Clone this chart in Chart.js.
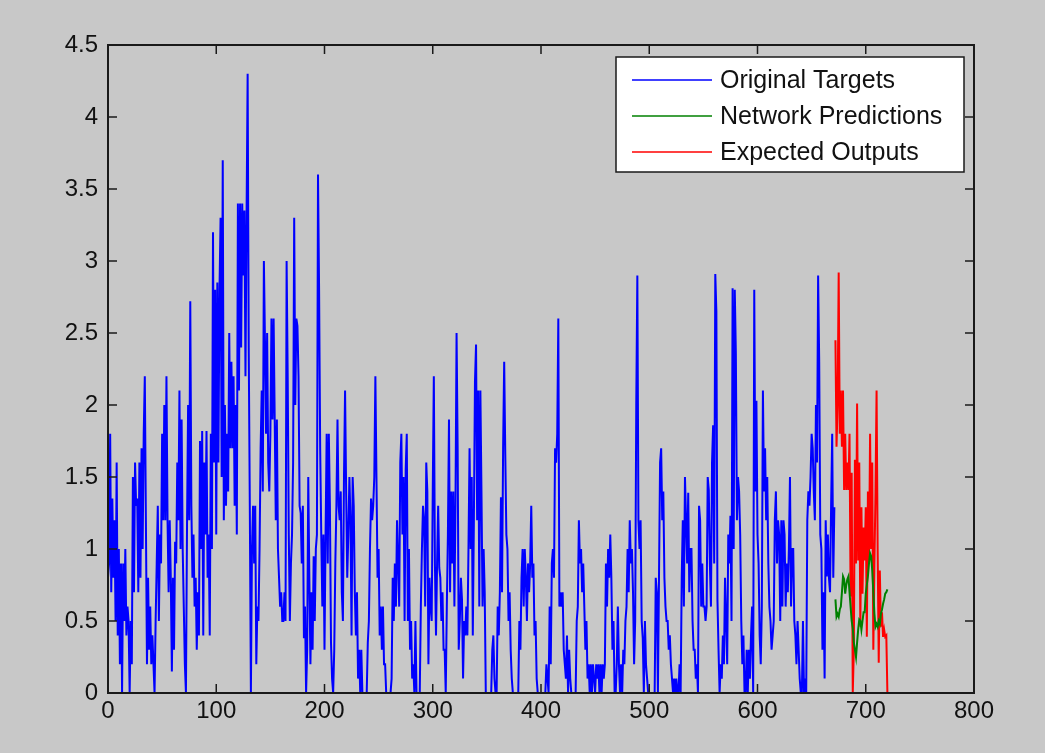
<!DOCTYPE html>
<html>
<head>
<meta charset="utf-8">
<title>Targets / Predictions</title>
<script src="https://cdn.jsdelivr.net/npm/chart.js@4.4.0/dist/chart.umd.min.js"></script>
<style>
    html, body { margin: 0; padding: 0; background: #c8c8c8; }
    #wrap { width: 1045px; height: 753px; }
</style>
</head>
<body>
<div id="wrap"><canvas id="myChart" width="1045" height="753"></canvas></div>
<script>
// Original targets, one value per sample starting at 0
const targets = [
    0.8, 0.9, 1.8, 0.7, 1.35, 0.8, 1.2, 0.5, 1.6, 0.4, 1.0, 0.2, 0.9, 0.0, 0.9, 0.5, 1.0, 0.4, 0.6, 0.5,
    0.0, 0.5, 0.2, 1.5, 0.7, 1.6, 1.3, 1.35, 0.7, 1.6, 0.8, 1.7, 1.0, 1.8, 2.2, 1.2, 0.2, 0.8, 0.3, 0.6,
    0.2, 0.4, 0.2, 0.0, 0.5, 0.9, 1.3, 0.5, 1.1, 0.9, 1.8, 1.2, 2.0, 1.2, 2.2, 1.2, 0.7, 1.2, 0.8, 0.15,
    0.8, 0.3, 1.05, 0.9, 1.6, 1.2, 2.1, 1.0, 1.9, 1.0, 0.6, 0.2, 0.0, 1.16, 2.0, 1.2, 2.72, 1.3, 0.8, 1.1,
    0.6, 0.8, 0.3, 0.7, 0.4, 1.75, 1.0, 1.82, 0.4, 1.6, 1.1, 1.82, 0.8, 1.1, 0.4, 1.8, 1.0, 3.2, 1.6, 2.8,
    1.1, 2.85, 1.6, 2.8, 3.3, 1.5, 3.7, 1.2, 2.0, 1.3, 1.8, 1.4, 2.5, 1.7, 2.3, 1.7, 2.2, 1.3, 2.0, 1.1,
    3.4, 2.1, 3.4, 2.4, 3.4, 2.9, 3.35, 2.2, 3.3, 4.3, 2.4, 1.3, 0.0, 1.0, 1.3, 0.9, 1.3, 0.2, 0.6, 0.5,
    1.0, 1.7, 2.1, 1.4, 3.0, 2.45, 1.8, 2.5, 1.6, 1.4, 1.8, 2.6, 1.9, 2.6, 1.9, 1.2, 1.9, 1.0, 0.8, 0.6,
    0.7, 0.5, 0.5, 0.7, 0.5, 3.0, 2.2, 1.1, 0.5, 0.9, 1.1, 1.6, 3.3, 2.0, 2.6, 2.55, 2.2, 1.3, 1.25, 0.9,
    1.3, 0.38, 0.6, 0.0, 0.3, 1.5, 0.8, 0.2, 0.7, 0.3, 0.95, 0.5, 1.0, 1.1, 3.6, 2.8, 1.7, 1.1, 0.6, 1.1,
    0.3, 1.1, 1.8, 0.9, 1.8, 1.3, 0.35, 0.1, 0.0, 0.3, 0.9, 1.3, 1.9, 1.3, 1.2, 1.4, 0.7, 0.5, 1.5, 2.1,
    1.4, 0.8, 1.1, 1.5, 1.2, 0.4, 1.5, 1.3, 0.7, 0.4, 0.7, 0.1, 0.3, 0.0, 0.3, 0.0, 0.0, 0.0, 0.0, 0.0,
    0.35, 0.5, 1.0, 1.35, 1.2, 1.3, 1.5, 2.2, 1.5, 0.8, 1.0, 0.4, 0.6, 0.3, 0.6, 0.2, 0.2, 0.0, 0.0, 0.0,
    0.0, 0.0, 0.1, 0.8, 0.5, 0.9, 0.6, 1.2, 0.9, 0.6, 1.6, 1.8, 1.1, 1.5, 0.5, 1.55, 1.8, 0.5, 1.0, 0.3,
    0.5, 0.1, 0.2, 0.0, 0.5, 0.0, 0.0, 0.0, 0.0, 0.6, 1.0, 1.3, 1.2, 0.6, 1.6, 1.4, 0.2, 0.8, 0.6, 0.5,
    1.4, 2.2, 0.9, 0.4, 0.9, 1.3, 0.87, 0.8, 0.5, 0.7, 0.3, 0.3, 0.0, 0.6, 1.1, 1.9, 0.7, 1.4, 0.9, 1.4,
    0.6, 1.3, 2.5, 1.7, 0.3, 0.5, 0.8, 0.65, 0.1, 0.5, 0.4, 0.6, 0.4, 1.0, 1.7, 1.0, 1.5, 0.4, 1.2, 2.16,
    2.42, 1.2, 2.1, 0.6, 2.1, 1.4, 0.6, 1.0, 0.7, 0.0, 0.0, 0.0, 0.0, 0.0, 0.0, 0.3, 0.4, 0.1, 0.0, 0.0,
    0.6, 0.4, 0.7, 1.36, 0.7, 1.7, 2.3, 1.66, 1.1, 1.0, 0.5, 0.7, 0.3, 0.1, 0.0, 0.0, 0.0, 0.0, 0.0, 0.0,
    0.5, 0.3, 0.8, 1.0, 0.6, 1.0, 0.8, 0.5, 0.9, 0.7, 0.9, 1.3, 0.8, 0.9, 0.4, 0.5, 0.1, 0.0, 0.0, 0.0,
    0.0, 0.0, 0.0, 0.0, 0.0, 0.2, 0.1, 0.0, 0.6, 0.2, 0.9, 1.0, 0.8, 1.7, 1.6, 1.8, 2.6, 0.6, 0.7, 0.6,
    0.7, 0.3, 0.2, 0.1, 0.4, 0.0, 0.3, 0.1, 0.0, 0.0, 0.0, 0.0, 0.0, 0.5, 0.6, 1.2, 0.9, 1.0, 0.7, 0.9,
    0.6, 0.3, 0.5, 0.1, 0.2, 0.0, 0.2, 0.0, 0.2, 0.1, 0.0, 0.2, 0.1, 0.2, 0.0, 0.2, 0.0, 0.2, 0.1, 0.2,
    0.9, 0.6, 1.0, 0.8, 1.1, 0.8, 0.3, 0.5, 0.0, 0.0, 0.2, 0.6, 0.2, 0.0, 0.2, 0.0, 0.3, 0.2, 0.5, 0.6,
    1.0, 0.7, 1.2, 0.9, 1.0, 0.7, 0.2, 0.5, 2.0, 2.9, 1.2, 1.0, 1.2, 0.5, 0.38, 0.0, 0.5, 0.2, 0.1, 0.0,
    0.0, 0.0, 0.0, 0.0, 0.0, 0.0, 0.8, 0.7, 0.0, 0.8, 1.6, 1.7, 1.2, 1.4, 0.8, 0.6, 0.5, 0.5, 0.3, 0.4,
    0.2, 0.1, 0.0, 0.1, 0.0, 0.1, 0.0, 0.0, 0.2, 0.0, 0.8, 1.2, 0.6, 1.5, 1.2, 0.9, 1.39, 0.7, 1.0, 1.0,
    0.5, 0.3, 0.3, 0.1, 0.2, 0.0, 1.3, 1.2, 0.6, 0.9, 0.6, 0.6, 0.5, 0.6, 1.5, 1.41, 0.9, 0.6, 1.6, 1.86,
    0.9, 2.91, 2.65, 0.65, 0.3, 0.0, 0.2, 0.1, 0.4, 0.2, 0.8, 0.5, 0.2, 1.1, 0.9, 1.23, 0.5, 2.81, 1.0, 2.8,
    2.36, 1.2, 1.5, 1.4, 1.1, 0.5, 0.2, 0.4, 0.0, 0.0, 0.3, 0.0, 0.3, 0.1, 0.4, 0.6, 0.0, 2.8, 1.4, 2.03,
    1.1, 0.9, 0.4, 0.2, 0.6, 2.1, 1.4, 1.7, 1.2, 1.5, 0.9, 0.6, 0.5, 0.3, 0.4, 0.5, 1.2, 1.4, 0.9, 1.2,
    1.1, 0.5, 1.2, 0.6, 1.2, 1.1, 0.6, 0.9, 0.7, 1.0, 1.5, 0.6, 1.0, 1.0, 0.5, 0.4, 0.2, 0.5, 0.3, 0.1,
    0.0, 0.0, 0.5, 0.0, 0.1, 0.0, 1.2, 1.4, 1.3, 1.5, 1.8, 1.7, 1.4, 1.2, 2.0, 1.6, 2.9, 2.3, 1.1, 1.0,
    0.3, 0.7, 0.1, 1.2, 0.81, 1.1, 0.8, 0.7, 1.3, 1.8, 0.8, 1.29
];

// test part: network output and expected output start here
const testStart = 672;
const predictions = [
    0.65, 0.53, 0.55, 0.53, 0.58, 0.6, 0.7, 0.81, 0.79, 0.69, 0.75, 0.79, 0.81, 0.7, 0.6, 0.5, 0.45, 0.35, 0.3, 0.25,
    0.35, 0.44, 0.51, 0.5, 0.44, 0.5, 0.56, 0.56, 0.69, 0.75, 0.81, 0.9, 0.97, 0.95, 0.85, 0.7, 0.55, 0.46, 0.48, 0.46,
    0.5, 0.48, 0.55, 0.58, 0.62, 0.65, 0.69, 0.7, 0.72
];
const expected = [
    2.45, 1.71, 2.0, 2.92, 1.8, 2.1, 1.71, 2.1, 1.41, 1.8, 1.41, 1.6, 1.41, 1.8, 0.67, 1.53, 0.0, 0.3, 1.62, 0.9,
    2.01, 0.92, 1.6, 0.46, 1.29, 0.69, 1.15, 0.92, 1.29, 0.39, 1.4, 0.9, 1.8, 1.0, 1.6, 0.3, 0.89, 1.39, 2.1, 0.99,
    0.21, 0.85, 0.46, 0.56, 0.39, 0.44, 0.39, 0.4, 0.0
];

const xTicks = [0, 100, 200, 300, 400, 500, 600, 700, 800];
const yTicks = [0, 0.5, 1, 1.5, 2, 2.5, 3, 3.5, 4, 4.5];
const seriesNames = ['Original Targets', 'Network Predictions', 'Expected Outputs'];
const seriesColors = ['#0000ff', '#008000', '#ff0000'];

const tickFont = { family: '"Liberation Sans", Arial, sans-serif', size: 24 };

function toPoints(values, start) {
    return values.map(function(v, i) { return { x: start + i, y: v }; });
}

// MATLAB style box: frame, inward ticks and a boxed legend
const matlabBox = {
    id: 'matlabBox',
    afterDraw: function(chart) {
        let ctx = chart.ctx;
        let a = chart.chartArea;
        let xs = chart.scales.x;
        let ys = chart.scales.y;
        let tick = 9;

        ctx.save();
        ctx.strokeStyle = '#1a1a1a';
        ctx.lineWidth = 1.5;
        ctx.beginPath();
        xTicks.forEach(function(v) {
            let px = xs.getPixelForValue(v);
            ctx.moveTo(px, a.bottom); ctx.lineTo(px, a.bottom - tick);
            ctx.moveTo(px, a.top); ctx.lineTo(px, a.top + tick);
        });
        yTicks.forEach(function(v) {
            let py = ys.getPixelForValue(v);
            ctx.moveTo(a.left, py); ctx.lineTo(a.left + tick, py);
            ctx.moveTo(a.right, py); ctx.lineTo(a.right - tick, py);
        });
        ctx.stroke();
        ctx.lineWidth = 2;
        ctx.strokeRect(a.left, a.top, a.right - a.left, a.bottom - a.top);

        // legend
        let lx = 616, ly = 57, lw = 348, lh = 115;
        ctx.fillStyle = '#ffffff';
        ctx.fillRect(lx, ly, lw, lh);
        ctx.lineWidth = 1.5;
        ctx.strokeStyle = '#1a1a1a';
        ctx.strokeRect(lx, ly, lw, lh);
        ctx.font = '25px "Liberation Sans", Arial, sans-serif';
        ctx.textBaseline = 'middle';
        seriesNames.forEach(function(name, i) {
            let y = ly + 23 + i * 36;
            ctx.strokeStyle = seriesColors[i];
            ctx.lineWidth = 1.5;
            ctx.beginPath();
            ctx.moveTo(lx + 16, y);
            ctx.lineTo(lx + 96, y);
            ctx.stroke();
            ctx.fillStyle = '#111111';
            ctx.fillText(name, lx + 104, y + 1);
        });
        ctx.restore();
    }
};

let canvas = document.getElementById('myChart');
let ctx = canvas.getContext('2d');
new Chart(ctx, {
    type: 'line',
    data: {
        datasets: [{
            label: seriesNames[0],
            data: toPoints(targets, 0),
            borderColor: seriesColors[0],
            borderWidth: 2,
            pointRadius: 0,
            tension: 0,
            order: 2
        }, {
            label: seriesNames[1],
            data: toPoints(predictions, testStart),
            borderColor: seriesColors[1],
            borderWidth: 2,
            pointRadius: 0,
            tension: 0,
            order: 0
        }, {
            label: seriesNames[2],
            data: toPoints(expected, testStart),
            borderColor: seriesColors[2],
            borderWidth: 2,
            pointRadius: 0,
            tension: 0,
            order: 1
        }]
    },
    options: {
        responsive: false,
        animation: false,
        layout: { padding: { left: 48, top: 45, right: 71, bottom: 0 } },
        plugins: {
            legend: { display: false },
            tooltip: { enabled: false }
        },
        scales: {
            x: {
                type: 'linear',
                min: 0,
                max: 800,
                afterBuildTicks: function(s) { s.ticks = xTicks.map(function(v) { return { value: v }; }); },
                afterFit: function(s) { s.height = 60; },
                grid: { display: false, drawTicks: false },
                border: { display: false },
                ticks: {
                    color: '#111111', font: tickFont, padding: 4, maxRotation: 0, autoSkip: false,
                    callback: function(v) { return String(v); }
                }
            },
            y: {
                type: 'linear',
                min: 0,
                max: 4.5,
                afterBuildTicks: function(s) { s.ticks = yTicks.map(function(v) { return { value: v }; }); },
                afterFit: function(s) { s.width = 60; },
                grid: { display: false, drawTicks: false },
                border: { display: false },
                ticks: {
                    color: '#111111', font: tickFont, padding: 10, autoSkip: false,
                    callback: function(v) { return String(v); }
                }
            }
        }
    },
    plugins: [matlabBox]
});
</script>
</body>
</html>
